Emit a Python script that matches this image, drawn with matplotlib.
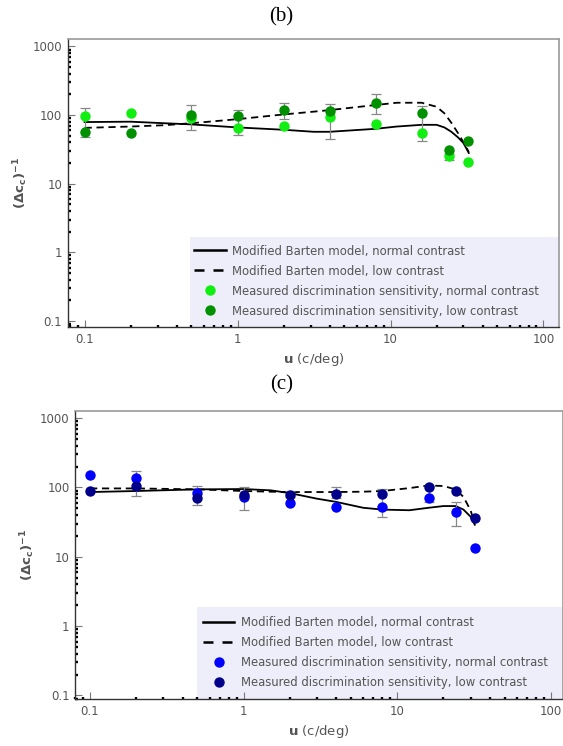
import matplotlib.pyplot as plt
from matplotlib.lines import Line2D
from matplotlib.patches import Rectangle
from matplotlib.ticker import LogLocator, NullFormatter
import numpy as np

# spatial frequencies of the measurements (c/deg)
u_meas = [0.1, 0.2, 0.5, 1, 2, 4, 8, 16, 24, 32]

# panel (b)
b_normal = [97, 108, 90, 64, 69, 93, 74, 55, 25, 21]
b_low = [56, 55, 100, 96, 118, 115, 151, 106, 31, 42]
b_err_u = [0.1, 0.5, 1, 2, 4, 8, 16, 24]
b_err_lo = [48, 61, 51, 88, 45, 103, 42, 22]
b_err_hi = [128, 141, 118, 151, 144, 200, 135, 27]
b_model_u = [0.1, 0.2, 0.33, 0.5, 1, 2, 3.15, 4, 8, 11, 16, 20, 22.5, 25, 27.7, 30, 32.5]
b_model_normal = [79, 80, 76, 73, 66, 61, 57, 57, 63, 68, 72, 72, 66, 57, 47, 39, 28]
b_model_low = [65, 68, 71, 76, 87, 102, 112, 118, 140, 151, 151, 132, 106, 77, 54, 40, 29]

# panel (c)
c_normal = [149, 137, 82, 73, 60, 53, 53, 71, 45, 13.4]
c_low = [88, 105, 71, 78, 79, 81, 81, 100, 89, 36]
c_err_u = [0.2, 0.5, 1, 2, 4, 8, 16, 24]
c_err_lo = [75, 56, 48, 72, 70, 38, 62, 28]
c_err_hi = [174, 106, 100, 88, 100, 96, 105, 62]
c_model_u = [0.1, 0.2, 0.5, 1, 1.5, 2, 3, 4, 6, 8, 12, 16, 20, 24, 27, 30, 32]
c_model_normal = [86, 89, 94, 95, 91, 83, 69, 62, 51, 48, 47, 51, 54, 54, 48, 38, 29]
c_model_low = [97, 97, 94, 89, 87, 86, 86, 86, 87, 89, 98, 107, 105, 94, 73, 47, 30]

legend_labels = ["Modified Barten model, normal contrast",
                 "Modified Barten model, low contrast",
                 "Measured discrimination sensitivity, normal contrast",
                 "Measured discrimination sensitivity, low contrast"]

GREY = "#555555"


def draw_panel(ax, normal, low, err_u, err_lo, err_hi, model_u, model_n, model_l,
               col_n, col_l, xlim, ylim, box, leg_anchor):
    ax.plot(model_u, model_n, color="black", lw=1.3, zorder=2)
    ax.plot(model_u, model_l, color="black", lw=1.3, ls=(0, (4, 2.6)), zorder=2)
    err_mid = np.sqrt(np.array(err_lo) * np.array(err_hi))
    ax.errorbar(err_u, err_mid,
                yerr=[err_mid - np.array(err_lo), np.array(err_hi) - err_mid],
                fmt="none", ecolor="#888888", elinewidth=0.9, capsize=3.5,
                capthick=0.9, zorder=3)
    ax.plot(u_meas, normal, "o", color=col_n, ms=7.5, mec="none", zorder=4)
    ax.plot(u_meas, low, "o", color=col_l, ms=7.5, mec="none", zorder=5)

    ax.set_xscale("log")
    ax.set_yscale("log")
    ax.set_xlim(*xlim)
    ax.set_ylim(*ylim)
    ax.set_xticks([0.1, 1, 10, 100])
    ax.set_xticklabels(["0.1", "1", "10", "100"])
    ax.set_yticks([0.1, 1, 10, 100, 1000])
    ax.set_yticklabels(["0.1", "1", "10", "100", "1000"])
    for axis in (ax.xaxis, ax.yaxis):
        axis.set_minor_locator(LogLocator(base=10, subs=np.arange(2, 10), numticks=100))
        axis.set_minor_formatter(NullFormatter())
    ax.tick_params(which="major", direction="in", length=5, width=0.8,
                   color="#777777", labelcolor=GREY, labelsize=8.5, pad=4)
    ax.tick_params(which="minor", direction="in", length=1.8, width=1.7,
                   color="black")
    for s in ["left", "bottom"]:
        ax.spines[s].set_color("#333333")
        ax.spines[s].set_linewidth(1.0)
    for s in ["top", "right"]:
        ax.spines[s].set_color("#999999")
        ax.spines[s].set_linewidth(1.2)

    ax.set_ylabel(r"$\mathbf{(\Delta c_c)^{-1}}$", color=GREY, fontsize=9.5, labelpad=2)
    ax.set_xlabel(r"$\mathbf{u}$ (c/deg)", color=GREY, fontsize=9.5, labelpad=4)

    # lavender legend background
    ax.add_patch(Rectangle((box[0], 0), 1 - box[0], box[1], transform=ax.transAxes,
                           facecolor="#EEEEFA", edgecolor="none", zorder=0.5))

    handles = [Line2D([], [], color="black", lw=1.8),
               Line2D([], [], color="black", lw=1.8, ls=(0, (4, 3.6))),
               Line2D([], [], ls="none", marker="o", color=col_n, ms=7.5, mec="none"),
               Line2D([], [], ls="none", marker="o", color=col_l, ms=7.5, mec="none")]
    leg = ax.legend(handles, legend_labels, loc="upper left",
                    bbox_to_anchor=leg_anchor, borderaxespad=0, fontsize=8.4,
                    frameon=False, handlelength=2.7, handletextpad=0.55,
                    labelspacing=0.6, borderpad=0, labelcolor=GREY)
    leg.set_zorder(1)


fig = plt.figure(figsize=(5.63, 7.46), dpi=100)

ax_b = fig.add_axes([0.1203, 0.5613, 0.8732, 0.3864])
draw_panel(ax_b, b_normal, b_low, b_err_u, b_err_lo, b_err_hi,
           b_model_u, b_model_normal, b_model_low,
           "#11EE11", "#009000", (0.0776, 127), (0.081, 1280),
           (0.249, 0.313), (0.257, 0.287))

ax_c = fig.add_axes([0.1332, 0.0630, 0.8668, 0.3861])
draw_panel(ax_c, c_normal, c_low, c_err_u, c_err_lo, c_err_hi,
           c_model_u, c_model_normal, c_model_low,
           "#0000FF", "#00008B", (0.0798, 120), (0.089, 1270),
           (0.25, 0.319), (0.262, 0.288))

fig.text(0.5, 1 - 17 / 746, "(b)", ha="center", va="center",
         family="Liberation Serif", fontsize=15)
fig.text(0.5, 1 - 385 / 746, "(c)", ha="center", va="center",
         family="Liberation Serif", fontsize=15)

fig.savefig("out.png", dpi=100)
